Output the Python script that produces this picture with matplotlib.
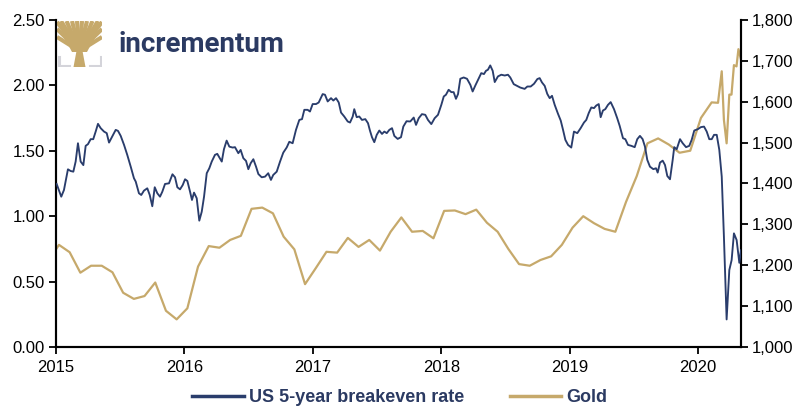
import numpy as np
import matplotlib
matplotlib.use("Agg")
import matplotlib.pyplot as plt
from matplotlib.ticker import FuncFormatter, FixedLocator

# ---------------- data ----------------
# US 5-year breakeven rate (%), dates as decimal years
be_t = [2015.005, 2015.041, 2015.062, 2015.093, 2015.114, 2015.135, 2015.153, 2015.171, 2015.192, 2015.213,
        2015.231, 2015.249, 2015.270, 2015.290, 2015.309, 2015.327, 2015.348, 2015.374, 2015.395, 2015.413,
        2015.438, 2015.465, 2015.483, 2015.504, 2015.530, 2015.555, 2015.582, 2015.607, 2015.621, 2015.646,
        2015.664, 2015.685, 2015.711, 2015.730, 2015.750, 2015.769, 2015.789, 2015.810, 2015.828, 2015.849,
        2015.880, 2015.907, 2015.927, 2015.945, 2015.966, 2015.987, 2016.005, 2016.023, 2016.044, 2016.059,
        2016.075, 2016.096, 2016.116, 2016.135, 2016.153, 2016.174, 2016.194, 2016.213, 2016.238, 2016.256,
        2016.291, 2016.308, 2016.329, 2016.350, 2016.376, 2016.394, 2016.420, 2016.438, 2016.459, 2016.480,
        2016.498, 2016.516, 2016.537, 2016.558, 2016.576, 2016.602, 2016.628, 2016.653, 2016.674, 2016.692,
        2016.719, 2016.745, 2016.770, 2016.797, 2016.817, 2016.843, 2016.869, 2016.895, 2016.916, 2016.934,
        2016.960, 2016.978, 2016.999, 2017.025, 2017.046, 2017.077, 2017.095, 2017.116, 2017.142, 2017.160,
        2017.181, 2017.202, 2017.220, 2017.245, 2017.272, 2017.290, 2017.311, 2017.323, 2017.342, 2017.362,
        2017.383, 2017.409, 2017.430, 2017.445, 2017.461, 2017.479, 2017.498, 2017.518, 2017.539, 2017.557,
        2017.576, 2017.596, 2017.617, 2017.635, 2017.661, 2017.687, 2017.705, 2017.730, 2017.759, 2017.786,
        2017.804, 2017.825, 2017.850, 2017.876, 2017.897, 2017.923, 2017.949, 2017.975, 2018.001, 2018.020,
        2018.037, 2018.058, 2018.079, 2018.097, 2018.115, 2018.131, 2018.149, 2018.175, 2018.201, 2018.227,
        2018.245, 2018.266, 2018.287, 2018.312, 2018.333, 2018.349, 2018.364, 2018.382, 2018.401, 2018.417,
        2018.442, 2018.468, 2018.495, 2018.520, 2018.538, 2018.565, 2018.590, 2018.616, 2018.650, 2018.671,
        2018.697, 2018.723, 2018.749, 2018.767, 2018.785, 2018.806, 2018.826, 2018.845, 2018.863, 2018.884,
        2018.910, 2018.931, 2018.949, 2018.967, 2018.988, 2019.013, 2019.034, 2019.060, 2019.086, 2019.112,
        2019.130, 2019.149, 2019.169, 2019.190, 2019.208, 2019.227, 2019.242, 2019.260, 2019.278, 2019.299,
        2019.320, 2019.346, 2019.371, 2019.390, 2019.416, 2019.434, 2019.455, 2019.481, 2019.507, 2019.527,
        2019.548, 2019.569, 2019.587, 2019.605, 2019.626, 2019.652, 2019.673, 2019.686, 2019.704, 2019.725,
        2019.743, 2019.761, 2019.782, 2019.803, 2019.815, 2019.834, 2019.860, 2019.881, 2019.907, 2019.932,
        2019.951, 2019.971, 2019.998, 2020.023, 2020.047, 2020.068, 2020.088, 2020.107, 2020.125, 2020.146,
        2020.166, 2020.185, 2020.202, 2020.223, 2020.244, 2020.262, 2020.280, 2020.301, 2020.322, 2020.335]
be_v = [1.246, 1.149, 1.200, 1.358, 1.345, 1.340, 1.417, 1.557, 1.417, 1.390,
        1.537, 1.550, 1.588, 1.588, 1.646, 1.705, 1.672, 1.646, 1.634, 1.562,
        1.608, 1.659, 1.651, 1.613, 1.544, 1.468, 1.378, 1.290, 1.264, 1.175,
        1.162, 1.195, 1.213, 1.162, 1.076, 1.221, 1.175, 1.149, 1.187, 1.246,
        1.251, 1.320, 1.297, 1.221, 1.205, 1.238, 1.282, 1.269, 1.187, 1.124,
        1.180, 1.137, 0.966, 1.034, 1.149, 1.328, 1.366, 1.417, 1.468, 1.476,
        1.417, 1.511, 1.577, 1.531, 1.524, 1.527, 1.481, 1.506, 1.443, 1.422,
        1.359, 1.404, 1.435, 1.378, 1.322, 1.297, 1.302, 1.328, 1.277, 1.315,
        1.340, 1.417, 1.485, 1.525, 1.568, 1.557, 1.659, 1.735, 1.741, 1.812,
        1.812, 1.799, 1.856, 1.856, 1.868, 1.932, 1.927, 1.876, 1.901, 1.883,
        1.901, 1.868, 1.791, 1.761, 1.723, 1.715, 1.761, 1.817, 1.756, 1.761,
        1.735, 1.741, 1.710, 1.654, 1.603, 1.565, 1.621, 1.654, 1.628, 1.646,
        1.634, 1.659, 1.672, 1.613, 1.590, 1.603, 1.684, 1.725, 1.723, 1.753,
        1.697, 1.748, 1.779, 1.774, 1.735, 1.703, 1.748, 1.774, 1.850, 1.914,
        1.927, 1.965, 1.947, 1.947, 1.896, 1.932, 2.049, 2.059, 2.049, 2.003,
        1.952, 1.998, 2.041, 2.092, 2.085, 2.110, 2.118, 2.151, 2.110, 2.024,
        2.067, 2.080, 2.074, 2.080, 2.059, 2.008, 1.995, 1.982, 1.972, 1.990,
        1.990, 2.011, 2.047, 2.054, 2.021, 1.995, 1.934, 1.901, 1.919, 1.850,
        1.781, 1.730, 1.659, 1.583, 1.544, 1.524, 1.646, 1.634, 1.672, 1.715,
        1.735, 1.787, 1.830, 1.825, 1.845, 1.856, 1.756, 1.807, 1.817, 1.850,
        1.871, 1.817, 1.748, 1.690, 1.595, 1.588, 1.544, 1.537, 1.527, 1.588,
        1.613, 1.588, 1.531, 1.430, 1.378, 1.359, 1.366, 1.333, 1.409, 1.424,
        1.391, 1.307, 1.282, 1.430, 1.527, 1.511, 1.588, 1.557, 1.527, 1.537,
        1.583, 1.654, 1.664, 1.680, 1.684, 1.646, 1.588, 1.588, 1.621, 1.621,
        1.506, 1.302, 0.843, 0.212, 0.589, 0.665, 0.869, 0.818, 0.644, 0.740]

# Gold (USD/oz): monthly values, then weekly values in spring 2020
gold_monthly_start = 2015.023
gold_monthly = [1250, 1232, 1182, 1199, 1199, 1183, 1133, 1118, 1125, 1158, 1089, 1068,
                1095, 1197, 1247, 1243, 1262, 1272, 1338, 1341, 1327, 1270, 1239, 1154,
                1193, 1233, 1231, 1267, 1245, 1262, 1236, 1282, 1317, 1282, 1284, 1266,
                1333, 1334, 1325, 1336, 1304, 1282, 1240, 1203, 1199, 1213, 1222, 1250,
                1292, 1320, 1303, 1289, 1282, 1355, 1418, 1498, 1510, 1495, 1475, 1480,
                1560, 1598]
gold_first_t, gold_first_v = 2015.000, 1239
gold_weekly_t = [2020.156, 2020.185, 2020.202, 2020.223, 2020.244, 2020.261, 2020.280, 2020.300, 2020.315, 2020.335]
gold_weekly_v = [1597, 1674, 1555, 1498, 1617, 1617, 1689, 1686, 1728, 1703]

year_ticks = [2015, 2016, 2017, 2018, 2019, 2020]
left_ticks = [0.0, 0.5, 1.0, 1.5, 2.0, 2.5]
right_ticks = [1000, 1100, 1200, 1300, 1400, 1500, 1600, 1700, 1800]
series_names = ["US 5-year breakeven rate", "Gold"]

# ---------------- style ----------------
NAVY = "#2A3D6C"
GOLD = "#C6A96B"
TXT_NAVY = "#2B3A62"
plt.rcParams['font.family'] = ['Liberation Sans', 'DejaVu Sans']

W, H = 795, 408
fig = plt.figure(figsize=(W / 100, H / 100), dpi=100)
ax = fig.add_axes([56 / W, 1 - 347.2 / H, (741 - 56) / W, (347.2 - 19.7) / H])
ax2 = ax.twinx()

gold_t = [gold_first_t] + [gold_monthly_start + k / 12 for k in range(len(gold_monthly))] + gold_weekly_t
gold_v = [gold_first_v] + gold_monthly + gold_weekly_v

l1, = ax.plot(be_t, be_v, color=NAVY, lw=1.35, zorder=3, solid_joinstyle='round')
l2, = ax2.plot(gold_t, gold_v, color=GOLD, lw=1.6, zorder=2, solid_joinstyle='round')
ax.set_zorder(ax2.get_zorder() + 1)
ax.patch.set_visible(False)

ax.set_xlim(2015, 2020.335)
ax.set_ylim(0, 2.5)
ax2.set_ylim(1000, 1800)
ax.xaxis.set_major_locator(FixedLocator(year_ticks))
ax.set_xticklabels([str(y) for y in year_ticks])
ax.yaxis.set_major_locator(FixedLocator(left_ticks))
ax.yaxis.set_major_formatter(FuncFormatter(lambda v, p: f"{v:.2f}"))
ax2.yaxis.set_major_locator(FixedLocator(right_ticks))
ax2.yaxis.set_major_formatter(FuncFormatter(lambda v, p: f"{int(v):,}"))

for a in (ax, ax2):
    a.spines['top'].set_visible(False)
    for s in ('left', 'right', 'bottom'):
        a.spines[s].set_linewidth(1.5)
        a.spines[s].set_color('black')
    a.tick_params(axis='both', direction='out', length=5, width=1.3, labelsize=12, colors='black', pad=3)
ax.tick_params(axis='x', pad=4)

leg = fig.legend([l1, l2], series_names, loc='center', bbox_to_anchor=(400 / W, 1 - 397.5 / H),
                 ncol=2, frameon=False, handlelength=2.85, columnspacing=2.5, handletextpad=0.3,
                 borderpad=0.1, prop={'weight': 'bold', 'size': 13})
for t in leg.get_texts():
    t.set_color(TXT_NAVY)
for h in leg.legend_handles:
    h.set_linewidth(2.5)

# ---------------- logo ----------------
lax = fig.add_axes([57 / W, 1 - 67 / H, 45 / W, 46 / H])
lax.set_xlim(0, 45)
lax.set_ylim(46, 0)
lax.axis('off')
trunk = plt.Polygon([(16.5, 46), (28.5, 46), (25.5, 30), (19.5, 30)], color=GOLD, lw=0)
lax.add_patch(trunk)
lax.add_patch(plt.Polygon([(15, 31), (30, 31), (38, 16), (7, 16)], color=GOLD, lw=0))
ends = [(0, 1), (0, 8), (0, 16), (4, 0), (9.5, 0), (15, 0), (20, 0), (25, 0), (30, 0), (35.5, 0), (41, 0),
        (45, 1), (45, 8), (45, 16)]
for ex, ey in ends:
    lax.plot([22.5, ex], [30, ey], color=GOLD, lw=3.0, solid_capstyle='butt')
lax.plot([1.5, 1.5, 12], [36, 44.5, 44.5], color="#D4D4DA", lw=2.2)
lax.plot([43.5, 43.5, 33], [36, 44.5, 44.5], color="#D4D4DA", lw=2.2)
fig.text(119 / W, 1 - 45 / H, "incrementum", fontsize=20, fontweight='bold', color=TXT_NAVY,
         va='center', ha='left', family=['Roboto', 'DejaVu Sans'])

fig.savefig("out.png", dpi=100)
